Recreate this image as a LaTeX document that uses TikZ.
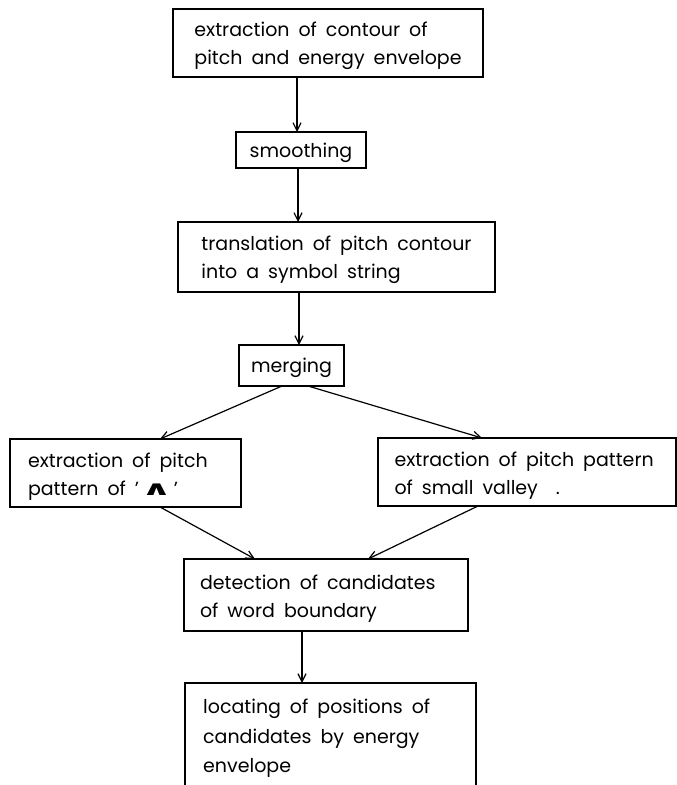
\documentclass[tikz,border=0pt]{standalone}
\usepackage{fontspec}
\setmainfont{Poppins}
\newfontfamily\dvfont{DejaVu Sans}
\usetikzlibrary{arrows.meta}
\newcommand{\fsz}{\fontsize{19}{28}\selectfont\spaceskip=9pt plus 1pt minus 1pt\relax}
\newcommand{\fszb}{\fontsize{19}{29.5}\selectfont\spaceskip=9pt plus 1pt minus 1pt\relax}
\newcommand{\dn}{\rule{0pt}{21pt}\spaceskip=9pt plus 1pt minus 1pt\relax}
\tikzset{
  box/.style={draw, line width=1.3pt, inner sep=0pt, outer sep=0pt, anchor=center, font=\fsz, align=left},
  flow/.style={line width=1.2pt, -{Straight Barb[length=8pt,width=8pt,line width=1.2pt]}}
}
\begin{document}
\begin{tikzpicture}[x=1pt,y=-1pt]
\useasboundingbox (0,0) rectangle (677,785);
\clip (0,0) rectangle (677,785);
\node[box, minimum width=310pt, minimum height=68pt] (top) at (328,43) {\dn extraction of contour of\\pitch and energy envelope};
\node[box, minimum width=130pt, minimum height=36pt] (smooth) at (301,150) {\rule{0pt}{20pt}smoothing};
\node[box, minimum width=317pt, minimum height=70pt] (trans) at (336.5,257) {\dn translation of pitch contour\\into a symbol string};
\node[box, minimum width=105pt, minimum height=41pt] (merge) at (291.5,365.5) {\rule{0pt}{20pt}merging};
\node[box, minimum width=231pt, minimum height=68pt, text width=195pt] (left) at (125.5,473) {\dn extraction of pitch\\pattern of '\kern2pt\scalebox{1.9}[1]{\dvfont\bfseries\fontsize{20}{28}\selectfont ∧}\kern2pt'};
\node[box, minimum width=298pt, minimum height=68pt, text width=281pt] (right) at (527,472) {\dn\hspace*{8pt}extraction of pitch pattern\\\hspace*{8pt}of small valley\ \ .};
\node[box, minimum width=284pt, minimum height=72pt, text width=252pt] (det) at (326,595) {\dn detection of candidates\\of word boundary};
\node[box, minimum width=291pt, minimum height=140pt, anchor=north] (bot) at (330.5,683) {};
\node[font=\fszb, align=left, anchor=north west, inner sep=0pt] (bottxt) at (203,699) {locating of positions of\\candidates by energy\\envelope};
\draw[flow] ([xshift=-31pt]top.south) -- ([xshift=-4pt]smooth.north);
\draw[flow] ([xshift=-3pt]smooth.south) -- ([xshift=-38.5pt]trans.north);
\draw[flow] ([xshift=-37.5pt]trans.south) -- ([xshift=7.5pt]merge.north);
\draw[flow] ([xshift=-9.5pt]merge.south) -- ([xshift=34.5pt]left.north);
\draw[flow] ([xshift=16.5pt]merge.south) -- ([xshift=-45pt]right.north);
\draw[flow] ([xshift=34.5pt]left.south) -- ([xshift=-71pt]det.north);
\draw[flow] ([xshift=-49pt]right.south) -- ([xshift=42pt]det.north);
\draw[flow] ([xshift=-24pt]det.south) -- ([xshift=-28.5pt]bot.north);
\end{tikzpicture}
\end{document}
